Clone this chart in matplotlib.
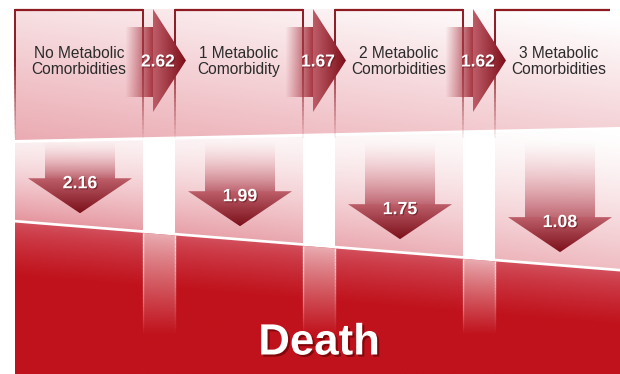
import numpy as np
import matplotlib
matplotlib.use("Agg")
import matplotlib.pyplot as plt
from matplotlib.patches import Polygon
from matplotlib.colors import to_rgba
from matplotlib.collections import LineCollection
import matplotlib.patheffects as pe

# ---------------- data ----------------
categories = ["No Metabolic\nComorbidities", "1 Metabolic\nComorbidity",
              "2 Metabolic\nComorbidities", "3 Metabolic\nComorbidities"]
transition_hr = [2.62, 1.67, 1.62]          # between successive states
death_hr = [2.16, 1.99, 1.75, 1.08]         # state -> death
outcome_label = "Death"

# ---------------- layout ----------------
W, H = 620, 374
X0, X1 = 15, 620
BOX_LEFT = [15, 175, 335, 495]
BOX_W = 128
TOP = 9
FONT = "Liberation Sans"


def line_y(x):
    return 221 + 0.081 * (np.asarray(x) - 15)


def col_top(x):
    return 143 - 13 * (np.asarray(x) - 15) / 605


fig = plt.figure(figsize=(W / 100, H / 100), dpi=100)
ax = fig.add_axes([0, 0, 1, 1])
ax.axis("off")


def grad(verts, tfunc, c0, c1, z, gamma=1.0):
    verts = np.asarray(verts, float)
    x0, y0 = verts.min(0)
    x1, y1 = verts.max(0)
    nx = int(x1 - x0) + 2
    ny = int(y1 - y0) + 2
    xs = np.linspace(x0, x1, nx)
    ys = np.linspace(y0, y1, ny)
    X, Y = np.meshgrid(xs, ys)
    t = np.clip(tfunc(X, Y), 0, 1) ** gamma
    t = t[..., None]
    a = np.array(to_rgba(c0))
    b = np.array(to_rgba(c1))
    img = a * (1 - t) + b * t
    im = ax.imshow(img, extent=(x0, x1, y1, y0), origin="upper",
                   interpolation="bilinear", aspect="auto", zorder=z)
    p = Polygon(verts, closed=True, facecolor="none", edgecolor="none",
                transform=ax.transData)
    ax.add_patch(p)
    im.set_clip_path(p)
    return im


# upper band (boxes region)
grad([(X0, TOP), (X1, TOP), (X1, 127), (X0, 140)],
     lambda X, Y: 0.28 + 0.5 * (Y - TOP) / 131 - 0.32 * (X - 15) / 605,
     "white", "#E5939D", 1)

# lower pink columns
for i, L in enumerate(BOX_LEFT):
    R = min(L + BOX_W, X1) if i < 3 else X1
    verts = [(L, col_top(L)), (R, col_top(R)), (R, line_y(R) - 1.2), (L, line_y(L) - 1.2)]

    def tf(X, Y):
        f = np.clip((Y - col_top(X)) / (line_y(X) - col_top(X)), 0, 1)
        h = (X - 15) / 605
        return 0.15 * (1 - h) + f ** 1.3 * (0.78 - 0.2 * h)
    grad(verts, tf, "white", "#E38C96", 2)

# red region
grad([(X0, line_y(X0) + 1.5), (X1, line_y(X1) + 1.5), (X1, H), (X0, H)],
     lambda X, Y: (Y - line_y(X)) / 55, "#D45663", "#C0121C", 2, gamma=0.7)

# lighter gaps inside red region
segs, cols = [], []
for i in range(3):
    gl = BOX_LEFT[i] + BOX_W
    gr = BOX_LEFT[i + 1]
    grad([(gl, line_y(gl) + 1.5), (gr, line_y(gr) + 1.5), (gr, 340), (gl, 340)],
         lambda X, Y: (Y - line_y(X)) / (335 - line_y(X)), "#EBB3B8", "#C0121C", 3, gamma=0.85)
    for xe in (gl, gr):
        ys = np.linspace(line_y(xe) + 1.5, 332, 25)
        for k in range(len(ys) - 1):
            segs.append([(xe, ys[k]), (xe, ys[k + 1])])
            cols.append((1, 1, 1, 0.85 * (1 - k / (len(ys) - 1))))
ax.add_collection(LineCollection(segs, colors=cols, linewidths=1.0, zorder=4))

# box outlines
segs, cols = [], []
for i, L in enumerate(BOX_LEFT):
    R = L + BOX_W if i < 3 else 610
    ax.plot([L, R], [TOP + 0.5, TOP + 0.5], color="#8E1B22", lw=1.6, zorder=5,
            solid_capstyle="butt")
    sides = [L, R] if i < 3 else [L]
    for xe in sides:
        ys = np.linspace(TOP, 138, 30)
        for k in range(len(ys) - 1):
            a = 1.0 if ys[k] < 60 else max(0, 1 - (ys[k] - 60) / 78)
            segs.append([(xe, ys[k]), (xe, ys[k + 1])])
            cols.append(to_rgba("#8E1B22", a))
ax.add_collection(LineCollection(segs, colors=cols, linewidths=1.4, zorder=5))

# box labels
for i, L in enumerate(BOX_LEFT):
    ax.text(L + 64, 61.5, categories[i], ha="center", va="center", fontsize=11.2,
            family=FONT, color="#2B2B2B", linespacing=1.1, zorder=8)

# horizontal arrows with transition HRs
for i, v in enumerate(transition_hr):
    R = BOX_LEFT[i] + BOX_W
    hs = R + 10
    tip = hs + 33
    bs = R - 18
    grad([(bs, 27), (hs + 1, 27), (hs + 1, 97), (bs, 97)],
         lambda X, Y, bs=bs: (X - bs) / 28, to_rgba("#B04652", 0), "#A83844", 6)
    grad([(hs, TOP), (hs, 112), (tip, 60.5)],
         lambda X, Y, hs=hs: (X - hs) / 33, "#BD5C67", "#7E0F1A", 6)
    ax.text(R + 15, 62, f"{v:.2f}", ha="center", va="center", fontsize=12.5,
            fontweight="bold", family=FONT, color="white", zorder=9,
            path_effects=[pe.withSimplePatchShadow(offset=(0.8, -0.8),
                                                   shadow_rgbFace="#5a0a10", alpha=0.5)])

# down arrows with death HRs
for i, v in enumerate(death_hr):
    cx = BOX_LEFT[i] + 65
    tip = float(line_y(cx)) - 13
    ht = tip - 35
    grad([(cx - 35, 142), (cx + 35, 142), (cx + 35, ht + 1), (cx - 35, ht + 1)],
         lambda X, Y, ht=ht: (Y - 142) / (ht - 142), to_rgba("#E9A9B0", 0), "#C06A75", 6,
         gamma=1.2)
    grad([(cx - 52, ht), (cx + 52, ht), (cx, tip)],
         lambda X, Y, ht=ht: (Y - ht) / 35, "#BC5E69", "#7D111B", 6)
    ax.text(cx, ht + 5.5, f"{v:.2f}", ha="center", va="center", fontsize=12.8,
            fontweight="bold", family=FONT, color="white", zorder=9,
            path_effects=[pe.withSimplePatchShadow(offset=(0.8, -0.8),
                                                   shadow_rgbFace="#5a0a10", alpha=0.6)])

# outcome label
ax.text(319, 343, outcome_label, ha="center", va="center", fontsize=31.5,
        fontweight="bold", family=FONT, color="white", zorder=9,
        path_effects=[pe.withSimplePatchShadow(offset=(1.5, -1.5),
                                               shadow_rgbFace="#5a0000", alpha=0.6)])

ax.set_xlim(0, W)
ax.set_ylim(H, 0)
fig.savefig("out.png", dpi=100, facecolor="white")
